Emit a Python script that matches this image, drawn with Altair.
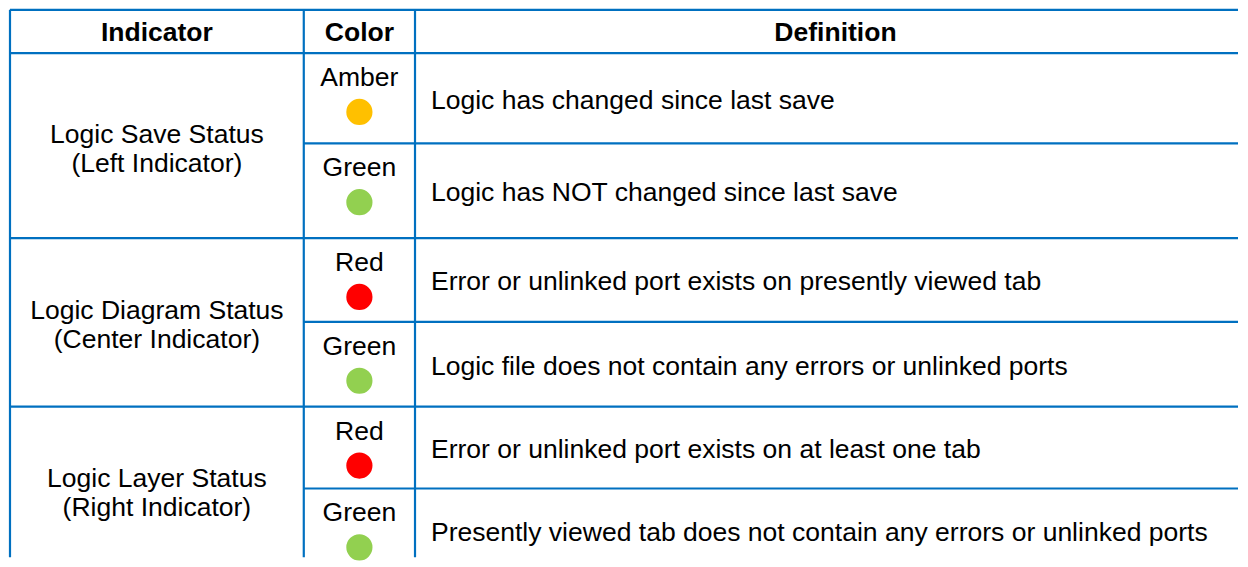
import altair as alt
import pandas as pd

# ---- table content ----
headers = ["Indicator", "Color", "Definition"]
indicators = [
    "Logic Save Status\n(Left Indicator)",
    "Logic Diagram Status\n(Center Indicator)",
    "Logic Layer Status\n(Right Indicator)",
]
color_names = ["Amber", "Green", "Red", "Green", "Red", "Green"]
dot_colors = ["#FFC000", "#92D050", "#FF0000", "#92D050", "#FF0000", "#92D050"]
definitions = [
    "Logic has changed since last save",
    "Logic has NOT changed since last save",
    "Error or unlinked port exists on presently viewed tab",
    "Logic file does not contain any errors or unlinked ports",
    "Error or unlinked port exists on at least one tab",
    "Presently viewed tab does not contain any errors or unlinked ports",
]

# ---- table geometry (layout) ----
W, H = 1232, 550
COL = [1, 295.5, 407, 1250]
ROW = [1.2, 44.5, 135, 230, 314, 399, 481, 566]
FONT = "Liberation Sans"
FS = 26.6
LINE = "#0070C0"

xs = alt.Scale(domain=[0, W], nice=False, zero=False)
ys = alt.Scale(domain=[0, H], nice=False, zero=False, reverse=True)


def X(f="x"):
    return alt.X(f"{f}:Q", scale=xs, axis=None)


def Y(f="y"):
    return alt.Y(f"{f}:Q", scale=ys, axis=None)


# grid lines
h_lines = []
for i in range(7):
    start = COL[1] if i in (2, 4, 6) else COL[0]
    h_lines.append({"x": start, "x2": W, "y": ROW[i], "y2": ROW[i]})
v_lines = [{"x": c, "x2": c, "y": ROW[0], "y2": H} for c in COL[:3]]
lines_df = pd.DataFrame(h_lines + v_lines)

rules = alt.Chart(lines_df).mark_rule(color=LINE, strokeWidth=2.2).encode(
    x=X(), x2="x2:Q", y=Y(), y2="y2:Q"
)

hdr_df = pd.DataFrame({
    "label": headers,
    "x": [(COL[i] + COL[i + 1]) / 2 for i in range(2)] + [(COL[2] + COL[3]) / 2],
    "y": [(ROW[0] + ROW[1]) / 2 + 2] * 3,
})
hdr = alt.Chart(hdr_df).mark_text(
    align="center", baseline="middle", font=FONT, fontSize=FS,
    fontWeight="bold", color="black"
).encode(x=X(), y=Y(), text="label:N")

ind_df = pd.DataFrame({
    "label": indicators,
    "x": [(COL[0] + COL[1]) / 2] * 3,
    "y": [(ROW[1 + 2 * g] + ROW[3 + 2 * g]) / 2 - 11 for g in range(3)],
})
ind = alt.Chart(ind_df).mark_text(
    align="center", baseline="middle", font=FONT, fontSize=FS,
    color="black", lineBreak="\n", lineHeight=29
).encode(x=X(), y=Y(), text="label:N")

cx = (COL[1] + COL[2]) / 2
col_df = pd.DataFrame({
    "label": color_names,
    "c": dot_colors,
    "x": [cx] * 6,
    "y": [ROW[i + 1] + 25 for i in range(6)],
    "yd": [ROW[i + 1] + 59 for i in range(6)],
})
col_txt = alt.Chart(col_df).mark_text(
    align="center", baseline="middle", font=FONT, fontSize=FS, color="black"
).encode(x=X(), y=Y(), text="label:N")
dots = alt.Chart(col_df).mark_point(
    filled=True, shape="circle", size=690, opacity=1, strokeWidth=0
).encode(x=X(), y=Y("yd"), color=alt.Color("c:N", scale=None))

def_df = pd.DataFrame({
    "label": definitions,
    "x": [COL[2] + 16] * 6,
    "y": [(ROW[i + 1] + ROW[i + 2]) / 2 + 2.5 for i in range(6)],
})
defs = alt.Chart(def_df).mark_text(
    align="left", baseline="middle", font=FONT, fontSize=FS, color="black"
).encode(x=X(), y=Y(), text="label:N")

chart = alt.layer(rules, hdr, ind, col_txt, dots, defs).properties(
    width=W, height=H, padding=0, background="white"
).configure_view(stroke=None)

chart.save("out.html", embed_options={"renderer": "svg", "actions": False})
